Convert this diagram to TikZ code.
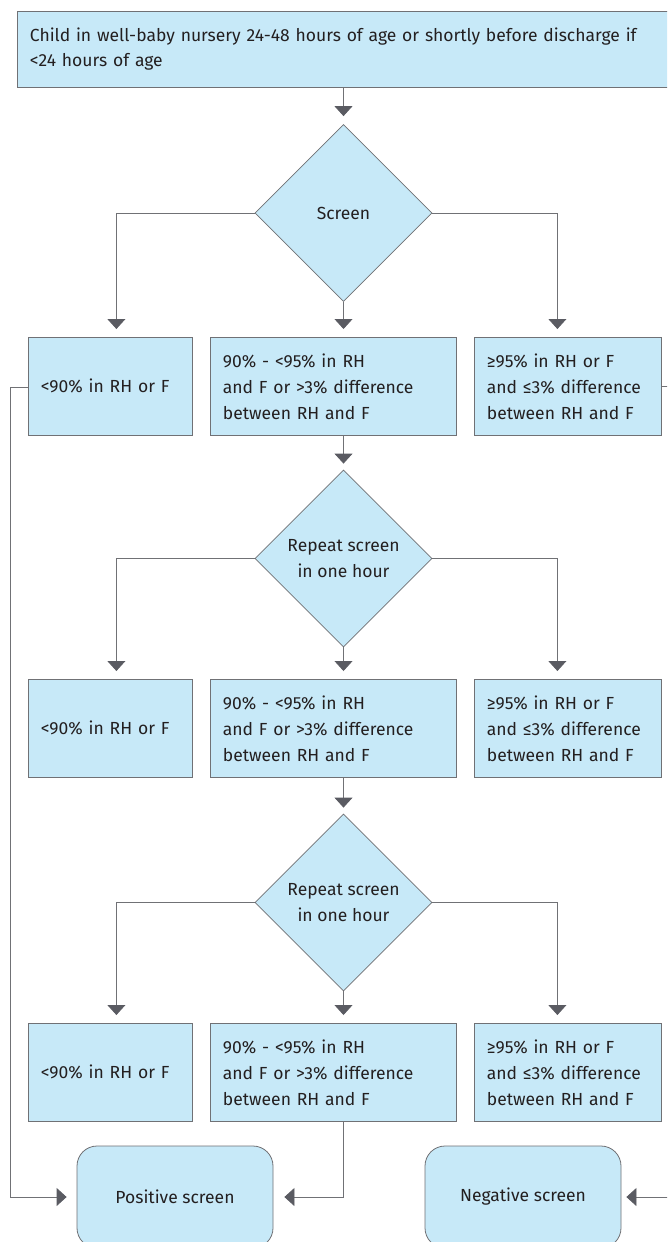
\documentclass[tikz,border=0pt]{standalone}
\usepackage{fontspec}
\setmainfont{Fira Sans}
\usetikzlibrary{arrows.meta,shapes.geometric,calc}
\definecolor{boxfill}{RGB}{199,233,248}
\definecolor{boxline}{RGB}{112,113,117}
\definecolor{arrgray}{RGB}{90,91,98}
\definecolor{txt}{RGB}{35,31,32}
\begin{document}
\begin{tikzpicture}[x=1pt,y=-1pt,
  every node/.style={font=\fontsize{17.5}{26}\selectfont, text=txt},
  box/.style={draw=boxline, fill=boxfill, line width=0.8pt, rectangle, anchor=north west,
    inner xsep=12.5pt, inner ysep=0pt, align=left, minimum height=98pt},
  dia/.style={draw=boxline, fill=boxfill, line width=0.8pt, diamond, aspect=1,
    minimum width=177pt, minimum height=177pt, inner sep=0pt, align=center},
  endbox/.style={draw=boxline, fill=boxfill, line width=0.8pt, rectangle, rounded corners=20pt,
    minimum width=196pt, minimum height=102pt, align=center},
  arr/.style={draw=boxline, line width=0.8pt, -{Triangle[width=18pt,length=10pt,fill=arrgray,color=arrgray]}, shorten >=8pt},
  ln/.style={draw=boxline, line width=0.8pt}
]
\useasboundingbox (0,0) rectangle (667,1242);
\clip (0,0) rectangle (667,1242);
\fill[white] (0,0) rectangle (667,1242);

% top box
\node[box, minimum height=76pt, text width=675pt, font=\fontsize{17.5}{25}\selectfont] (top) at (17,11)
  {Child in well-baby nursery 24-48 hours of age or shortly before discharge if\\<24 hours of age};

% diamonds
\node[dia] (d1) at (343.5,213) {Screen};
\node[dia] (d2) at (343.5,558.5) {Repeat screen\\in one hour};
\node[dia] (d3) at (343.5,902.5) {Repeat screen\\in one hour};

% row 1
\node[box, text width=139pt] (l1) at (28,337) {<90\% in RH or F};
\node[box, text width=221pt] (m1) at (210,337) {90\% - <95\% in RH\\and F or >3\% difference\\between RH and F};
\node[box, text width=162pt] (r1) at (474,337) {≥95\% in RH or F\\and ≤3\% difference\\between RH and F};
% row 2
\node[box, text width=139pt] (l2) at (28,679) {<90\% in RH or F};
\node[box, text width=221pt] (m2) at (210,679) {90\% - <95\% in RH\\and F or >3\% difference\\between RH and F};
\node[box, text width=162pt] (r2) at (474,679) {≥95\% in RH or F\\and ≤3\% difference\\between RH and F};
% row 3
\node[box, text width=139pt] (l3) at (28,1023) {<90\% in RH or F};
\node[box, text width=221pt] (m3) at (210,1023) {90\% - <95\% in RH\\and F or >3\% difference\\between RH and F};
\node[box, text width=162pt] (r3) at (474,1023) {≥95\% in RH or F\\and ≤3\% difference\\between RH and F};

% end boxes
\node[endbox] (pos) at (175,1197) {Positive screen};
\node[endbox] (neg) at (523,1197) {Negative screen};

% helper coordinates
\coordinate (lx) at (10,387);
\coordinate (rx) at (690,386);

% connectors
\draw[arr] (d1.north |- top.south) -- (d1.north);
\foreach \d/\l/\m/\r in {d1/l1/m1/r1, d2/l2/m2/r2, d3/l3/m3/r3}{
  \draw[arr] (\d.west) -| ([xshift=6pt]\l.north);
  \draw[arr] (\d.south) -- (\d.south |- \m.north);
  \draw[arr] (\d.east) -| ([xshift=-10.5pt]\r.north);
}
\draw[arr, shorten >=6pt] (d2.north |- m1.south) -- (d2.north);
\draw[arr, shorten >=6pt] (d3.north |- m2.south) -- (d3.north);

\draw[arr, shorten >=10pt] (l1.west |- lx) -- (lx) |- (pos.west);
\draw[arr, shorten >=11pt] (d3.south |- m3.south) |- (pos.east);
\draw[arr, shorten >=5pt] (r1.east |- rx) -- (rx) |- (neg.east);
\end{tikzpicture}
\end{document}
